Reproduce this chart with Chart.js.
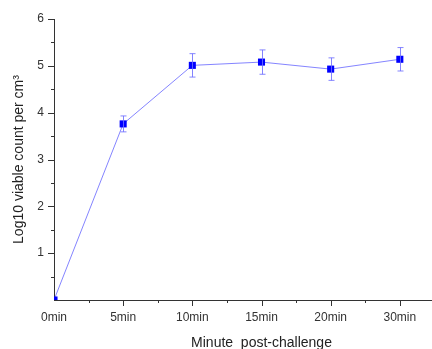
<!DOCTYPE html>
<html>
<head>
<meta charset="utf-8">
<script src="https://cdn.jsdelivr.net/npm/chart.js@4.4.1/dist/chart.umd.min.js"></script>
<style>
  html, body { margin: 0; padding: 0; background: #fff; overflow: hidden; }
  #wrap { position: relative; width: 479px; height: 349px; }
</style>
</head>
<body>
<div id="wrap"><canvas id="chart"></canvas></div>
<script>
// time points after challenge, log10 counts and their error bars
const categories = ['0min', '5min', '10min', '15min', '20min', '30min'];
const counts     = [0, 3.76, 5.01, 5.08, 4.93, 5.14];
const errors     = [0, 0.17, 0.25, 0.26, 0.24, 0.25];
const yTicks     = [1, 2, 3, 4, 5, 6];

const AXIS_COLOR = '#333';
const LINE_COLOR = 'rgba(110,110,255,0.85)';
const FONT = "'Liberation Sans', Arial, sans-serif";

// tick marks (major + minor, outward) and error bars
const extrasPlugin = {
  id: 'extras',
  afterDatasetsDraw(chart) {
    const { ctx, scales: { x, y } } = chart;
    ctx.save();

    // error bars
    ctx.strokeStyle = LINE_COLOR;
    ctx.lineWidth = 1;
    counts.forEach((v, i) => {
      if (!errors[i]) return;
      const px = Math.round(x.getPixelForValue(i)) + 0.5;
      const top = y.getPixelForValue(v + errors[i]);
      const bot = y.getPixelForValue(v - errors[i]);
      ctx.beginPath();
      ctx.moveTo(px, top); ctx.lineTo(px, bot);
      ctx.moveTo(px - 3, top); ctx.lineTo(px + 3, top);
      ctx.moveTo(px - 3, bot); ctx.lineTo(px + 3, bot);
      ctx.stroke();
    });

    // tick marks
    ctx.strokeStyle = AXIS_COLOR;
    ctx.lineWidth = 1;
    const axisX = x.left, axisY = y.bottom;
    ctx.beginPath();
    for (let v = 0.5; v <= 6; v += 0.5) {
      const py = Math.round(y.getPixelForValue(v)) + 0.5;
      const len = Number.isInteger(v) ? 6 : 3;
      ctx.moveTo(axisX, py); ctx.lineTo(axisX - len, py);
    }
    for (let v = 0.5; v <= 6; v += 0.5) {
      const px = Math.round(x.getPixelForValue(v)) + 0.5;
      const len = Number.isInteger(v) ? 6 : 3;
      ctx.moveTo(px, axisY); ctx.lineTo(px, axisY + len);
    }
    ctx.stroke();
    ctx.restore();
  }
};

new Chart(document.getElementById('chart'), {
  type: 'line',
  data: {
    datasets: [{
      data: counts.map((v, i) => ({ x: i, y: v })),
      borderColor: LINE_COLOR,
      borderWidth: 1,
      backgroundColor: '#0000ff',
      pointStyle: 'rect',
      pointRadius: 5,
      pointBorderWidth: 0,
      pointBackgroundColor: '#0000ff',
      tension: 0,
    }],
  },
  options: {
    responsive: true,
    maintainAspectRatio: false,
    animation: false,
    layout: { padding: { top: 19, right: 0, left: 0, bottom: 0 } },
    plugins: { legend: { display: false }, tooltip: { enabled: false } },
    scales: {
      x: {
        type: 'linear',
        min: 0,
        max: 6,
        afterFit: (scale) => { scale.height = 49; },
        grid: { display: false, drawTicks: false },
        border: { display: true, color: AXIS_COLOR, width: 1 },
        ticks: {
          stepSize: 1,
          padding: 10,
          color: '#333',
          font: { family: FONT, size: 12 },
          callback: (v) => categories[v] ?? '',
        },
        title: {
          display: true,
          text: 'Minute  post-challenge',
          color: '#222',
          font: { family: FONT, size: 14 },
          padding: { top: 0, bottom: -3 },
        },
      },
      y: {
        min: 0,
        max: 6,
        afterFit: (scale) => { scale.width = 54; },
        grid: { display: false, drawTicks: false },
        border: { display: true, color: AXIS_COLOR, width: 1 },
        ticks: {
          stepSize: 1,
          padding: 10,
          color: '#333',
          font: { family: FONT, size: 12 },
          callback: (v) => (yTicks.includes(v) ? String(v) : ''),
        },
        title: {
          display: true,
          text: 'Log10 viable count per cm³',
          color: '#222',
          font: { family: FONT, size: 14 },
          padding: 11,
        },
      },
    },
  },
  plugins: [extrasPlugin],
});
</script>
</body>
</html>
